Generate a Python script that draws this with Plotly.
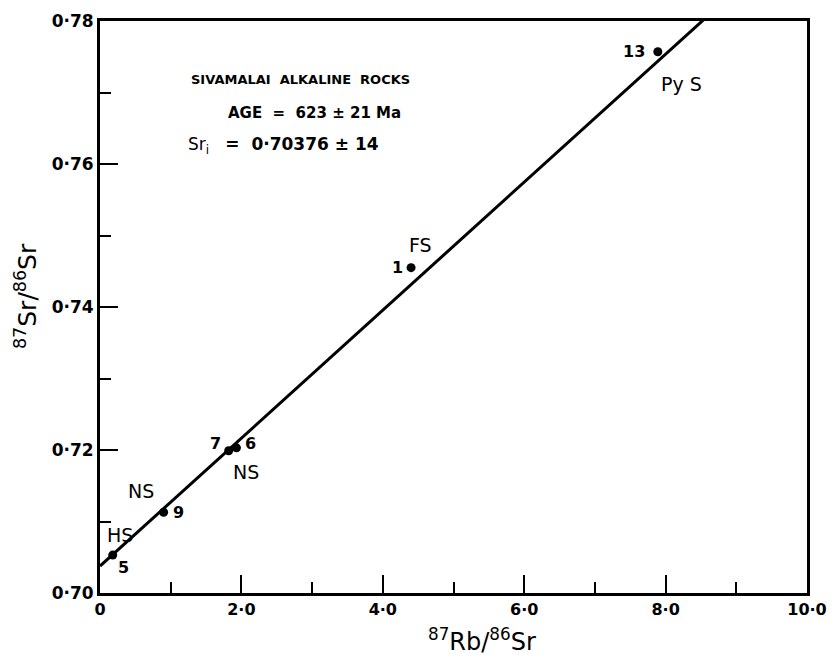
import plotly.graph_objects as go

# Data
sample_ids = ["5", "9", "7", "6", "1", "13"]
rb_sr = [0.18, 0.90, 1.82, 1.93, 4.40, 7.89]
sr_sr = [0.7053, 0.7113, 0.7199, 0.7203, 0.7455, 0.7757]

rock_labels = ["HS", "NS", "NS", "FS", "Py S"]
rock_x = [0.28, 0.58, 2.07, 4.54, 8.23]
rock_y = [0.7081, 0.7143, 0.7169, 0.7487, 0.7712]

iso_intercept = 0.70376
iso_slope = 0.00895
iso_x = [0.0, 10.0]

x_ticks = [0, 2, 4, 6, 8, 10]
x_ticktext = ["0", "2·0", "4·0", "6·0", "8·0", "10·0"]
y_ticks = [0.70, 0.72, 0.74, 0.76, 0.78]
y_ticktext = ["0·70", "0·72", "0·74", "0·76", "0·78"]

iso_y = [iso_intercept + iso_slope * v for v in iso_x]

FONT = "DejaVu Sans"

fig = go.Figure()
fig.add_trace(go.Scatter(x=iso_x, y=iso_y, mode="lines",
                         line=dict(color="black", width=3), hoverinfo="skip"))
fig.add_trace(go.Scatter(x=rb_sr, y=sr_sr, mode="markers",
                         marker=dict(color="black", size=9)))

# sample number labels: pixel offsets of label centre from its point
id_pos = {"5": (11, -12), "9": (15, 0), "7": (-13, 7),
          "6": (14, 4), "1": (-14, 0), "13": (-24, 0)}
for sid, xv, yv in zip(sample_ids, rb_sr, sr_sr):
    dx, dy = id_pos[sid]
    fig.add_annotation(x=xv, y=yv, text="<b>" + sid + "</b>", showarrow=False,
                       xanchor="center", yanchor="middle",
                       xshift=dx, yshift=dy,
                       font=dict(family=FONT, size=16, color="black"))

for t, xv, yv in zip(rock_labels, rock_x, rock_y):
    fig.add_annotation(x=xv, y=yv, text=t, showarrow=False,
                       xanchor="center", yanchor="middle",
                       font=dict(family=FONT, size=19, color="black"))

fig.add_annotation(xref="paper", yref="paper", x=0.284, y=0.897,
                   xanchor="center", yanchor="middle",
                   text="<b>SIVAMALAI  ALKALINE  ROCKS</b>", showarrow=False,
                   font=dict(family=FONT, size=13, color="black"))
fig.add_annotation(xref="paper", yref="paper", x=0.304, y=0.839,
                   xanchor="center", yanchor="middle",
                   text="<b>AGE  =  623 ± 21 Ma</b>", showarrow=False,
                   font=dict(family=FONT, size=15, color="black"))
fig.add_annotation(xref="paper", yref="paper", x=0.259, y=0.783,
                   xanchor="center", yanchor="middle",
                   text="Sr<sub>i</sub>   <b>=  0·70376 ± 14</b>", showarrow=False,
                   font=dict(family=FONT, size=17, color="black"))

# axis titles
fig.add_annotation(xref="paper", yref="paper", x=0.54, y=-0.082,
                   xanchor="center", yanchor="middle",
                   text="<sup>87</sup>Rb/<sup>86</sup>Sr", showarrow=False,
                   font=dict(family=FONT, size=24, color="black"))
fig.add_annotation(xref="paper", yref="paper", x=-0.104, y=0.52,
                   xanchor="center", yanchor="middle", textangle=-90,
                   text="<sup>87</sup>Sr/<sup>86</sup>Sr", showarrow=False,
                   font=dict(family=FONT, size=25, color="black"))

fig.update_xaxes(range=[0, 10], tickmode="array", tickvals=x_ticks,
                 ticktext=["<b>" + t + "</b>" for t in x_ticktext],
                 ticks="inside", ticklen=18, tickwidth=2, tickcolor="black",
                 minor=dict(dtick=1, ticks="inside", ticklen=11, tickwidth=2,
                            tickcolor="black"),
                 showline=True, linecolor="black", linewidth=3, mirror=True,
                 showgrid=False, zeroline=False, automargin=False,
                 tickfont=dict(family=FONT, size=16, color="black"))
fig.update_yaxes(range=[0.70, 0.78], tickmode="array", tickvals=y_ticks,
                 ticktext=["<b>" + t + "</b>" for t in y_ticktext],
                 ticks="inside", ticklen=18, tickwidth=2, tickcolor="black",
                 minor=dict(dtick=0.01, ticks="inside", ticklen=11, tickwidth=2,
                            tickcolor="black"),
                 showline=True, linecolor="black", linewidth=3, mirror=True,
                 showgrid=False, zeroline=False, automargin=False,
                 tickfont=dict(family=FONT, size=17, color="black"))

# page body has an 8px margin, so the figure is sized to fit inside it
fig.update_layout(width=821, height=647, showlegend=False,
                  plot_bgcolor="white", paper_bgcolor="white",
                  margin=dict(l=92, r=22, t=13, b=62))
fig.write_html("out.html")
